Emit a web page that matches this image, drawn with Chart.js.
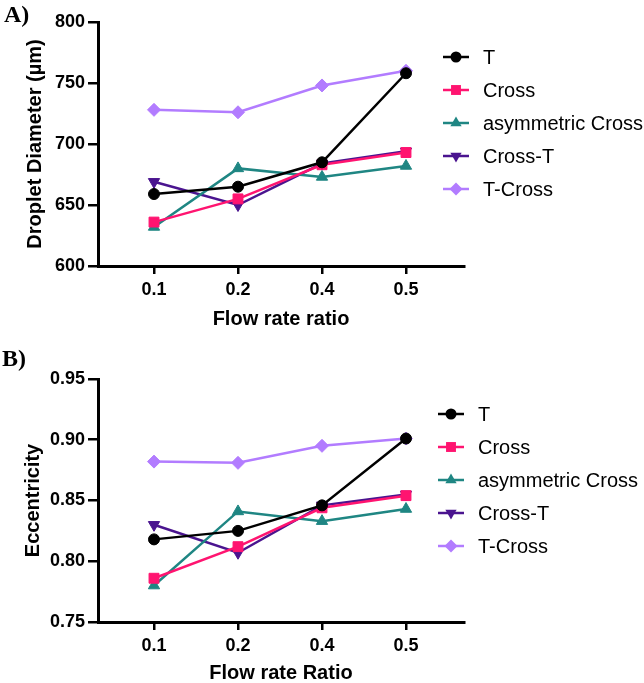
<!DOCTYPE html>
<html lang="en">
<head>
    <meta charset="UTF-8">
    <title>Droplet diameter and eccentricity vs flow rate ratio</title>
    <script src="https://cdn.jsdelivr.net/npm/chart.js"></script>
    <style>
        html, body { margin: 0; padding: 0; background: #fff; overflow: hidden; }
        body { width: 644px; height: 683px; position: relative; font-family: "Liberation Sans", Arial, sans-serif; }
        .panel { position: absolute; left: 0; width: 644px; }
        .panel canvas { position: absolute; left: 0; top: 0; }
        .tag { position: absolute; font-family: "Liberation Serif", "Times New Roman", serif; font-weight: bold; font-size: 24px; line-height: 1; }
        .legend { position: absolute; font-size: 20px; color: #000; }
        .legend div { height: 33px; line-height: 33px; white-space: nowrap; }
        .legend svg { vertical-align: middle; margin-right: 14px; position: relative; top: -2px; }
    </style>
</head>
<body>
    <div class="panel" id="panelA" style="top:0;height:340px;">
        <canvas id="chartA" width="644" height="340"></canvas>
        <div class="tag" style="left:4px;top:2px;">A)</div>
        <div class="legend" id="legendA" style="left:443px;top:41px;"></div>
    </div>
    <div class="panel" id="panelB" style="top:340px;height:360px;">
        <canvas id="chartB" width="644" height="360"></canvas>
        <div class="tag" style="left:2px;top:6px;">B)</div>
        <div class="legend" id="legendB" style="left:438px;top:58px;"></div>
    </div>

    <script>
      // flow rate ratio categories
      const categories = ['0.1', '0.2', '0.4', '0.5'];
      const seriesNames = ['T', 'Cross', 'asymmetric Cross', 'Cross-T', 'T-Cross'];

      // A) droplet diameter (µm)
      const diamT = [659, 665, 685, 758];
      const diamCross = [636, 655, 683, 693];
      const diamAsym = [632, 680, 673, 682];
      const diamCrossT = [669, 650, 684, 694];
      const diamTCross = [728, 726, 748, 760];
      const diamTicks = [600, 650, 700, 750, 800];

      // B) eccentricity
      const eccT = [0.818, 0.825, 0.846, 0.901];
      const eccCross = [0.786, 0.812, 0.844, 0.854];
      const eccAsym = [0.780, 0.841, 0.833, 0.843];
      const eccCrossT = [0.830, 0.807, 0.846, 0.855];
      const eccTCross = [0.882, 0.881, 0.895, 0.901];
      const eccTicks = [0.75, 0.80, 0.85, 0.90, 0.95];

      const styles = [
        { color: '#000000', pointStyle: 'circle', radius: 5.5, rotation: 0 },
        { color: '#ff1470', pointStyle: 'rect', radius: 7, rotation: 0 },
        { color: '#1f8683', pointStyle: 'triangle', radius: 6.5, rotation: 0 },
        { color: '#4a148f', pointStyle: 'triangle', radius: 6.5, rotation: 180 },
        { color: '#b27cff', pointStyle: 'rectRot', radius: 6.5, rotation: 0 }
      ];

      const tickFont = { family: 'Liberation Sans', size: 18, weight: 'bold' };
      const titleFont = { family: 'Liberation Sans', size: 20, weight: 'bold' };

      function makeDatasets(seriesList) {
        return seriesList.map((values, i) => ({
          label: seriesNames[i],
          data: values.map((v, j) => ({ x: j, y: v })),
          borderColor: styles[i].color,
          backgroundColor: styles[i].color,
          pointBackgroundColor: styles[i].color,
          pointBorderColor: styles[i].color,
          pointStyle: styles[i].pointStyle,
          pointRotation: styles[i].rotation,
          pointRadius: styles[i].radius,
          pointBorderWidth: 1,
          borderWidth: 2.5,
          tension: 0
        }));
      }

      function makeChart(id, seriesList, yTicks, yTitle, xTitle, opts) {
        const ctx = document.getElementById(id).getContext('2d');
        return new Chart(ctx, {
          type: 'line',
          data: { datasets: makeDatasets(seriesList) },
          options: {
            responsive: false,
            animation: false,
            layout: { padding: { top: opts.top, right: 180, left: 0, bottom: 0 } },
            plugins: { legend: { display: false }, tooltip: { enabled: false } },
            scales: {
              x: {
                type: 'linear',
                min: -56 / 84,
                max: 3 + 58 / 84,
                afterBuildTicks: s => { s.ticks = categories.map((c, i) => ({ value: i })); },
                afterFit: s => { s.height = opts.xHeight; },
                ticks: {
                  color: '#000',
                  font: tickFont,
                  padding: 5,
                  maxRotation: 0,
                  callback: v => categories[v]
                },
                grid: { drawOnChartArea: false, color: '#000', lineWidth: 2.5, tickLength: 8 },
                border: { display: true, color: '#000', width: 3 },
                title: { display: true, text: xTitle, color: '#000', font: titleFont, padding: { top: 0, bottom: opts.xTitlePad } }
              },
              y: {
                min: yTicks[0],
                max: yTicks[yTicks.length - 1],
                afterBuildTicks: s => { s.ticks = yTicks.map(v => ({ value: v })); },
                afterFit: s => { s.width = 98; },
                ticks: {
                  color: '#000',
                  font: tickFont,
                  padding: 3,
                  callback: v => opts.decimals ? v.toFixed(opts.decimals) : String(v)
                },
                grid: { drawOnChartArea: false, color: '#000', lineWidth: 2.5, tickLength: 10 },
                border: { display: true, color: '#000', width: 3 },
                title: { display: true, text: yTitle, color: '#000', font: titleFont, padding: { top: opts.yTitlePad, bottom: 0 } }
              }
            }
          }
        });
      }

      function markerSvg(st) {
        const cx = 13, cy = 8, r = st.radius;
        let shape = '';
        if (st.pointStyle === 'circle') {
          shape = `<circle cx="${cx}" cy="${cy}" r="${r}" fill="${st.color}"/>`;
        } else if (st.pointStyle === 'rect') {
          const h = r * Math.SQRT1_2;
          shape = `<rect x="${cx - h}" y="${cy - h}" width="${2 * h}" height="${2 * h}" fill="${st.color}"/>`;
        } else if (st.pointStyle === 'rectRot') {
          shape = `<polygon points="${cx},${cy - r} ${cx + r},${cy} ${cx},${cy + r} ${cx - r},${cy}" fill="${st.color}"/>`;
        } else {
          const s = st.rotation ? -1 : 1;
          const e = r * 0.866;
          shape = `<polygon points="${cx},${cy - s * r} ${cx + e},${cy + s * r / 2} ${cx - e},${cy + s * r / 2}" fill="${st.color}"/>`;
        }
        return `<svg width="26" height="16" viewBox="0 0 26 16"><line x1="0" y1="${cy}" x2="26" y2="${cy}" stroke="${st.color}" stroke-width="2.5"/>${shape}</svg>`;
      }

      function buildLegend(id) {
        const el = document.getElementById(id);
        seriesNames.forEach((name, i) => {
          const row = document.createElement('div');
          row.innerHTML = markerSvg(styles[i]) + '<span></span>';
          row.querySelector('span').textContent = name;
          el.appendChild(row);
        });
      }

      makeChart('chartA', [diamT, diamCross, diamAsym, diamCrossT, diamTCross], diamTicks,
        'Droplet Diameter (µm)', 'Flow rate ratio',
        { top: 22, xHeight: 74, xTitlePad: 9, yTitlePad: 23, decimals: 0 });
      makeChart('chartB', [eccT, eccCross, eccAsym, eccCrossT, eccTCross], eccTicks,
        'Eccentricity', 'Flow rate Ratio',
        { top: 39, xHeight: 78, xTitlePad: 15, yTitlePad: 21, decimals: 2 });

      buildLegend('legendA');
      buildLegend('legendB');
    </script>
</body>
</html>
